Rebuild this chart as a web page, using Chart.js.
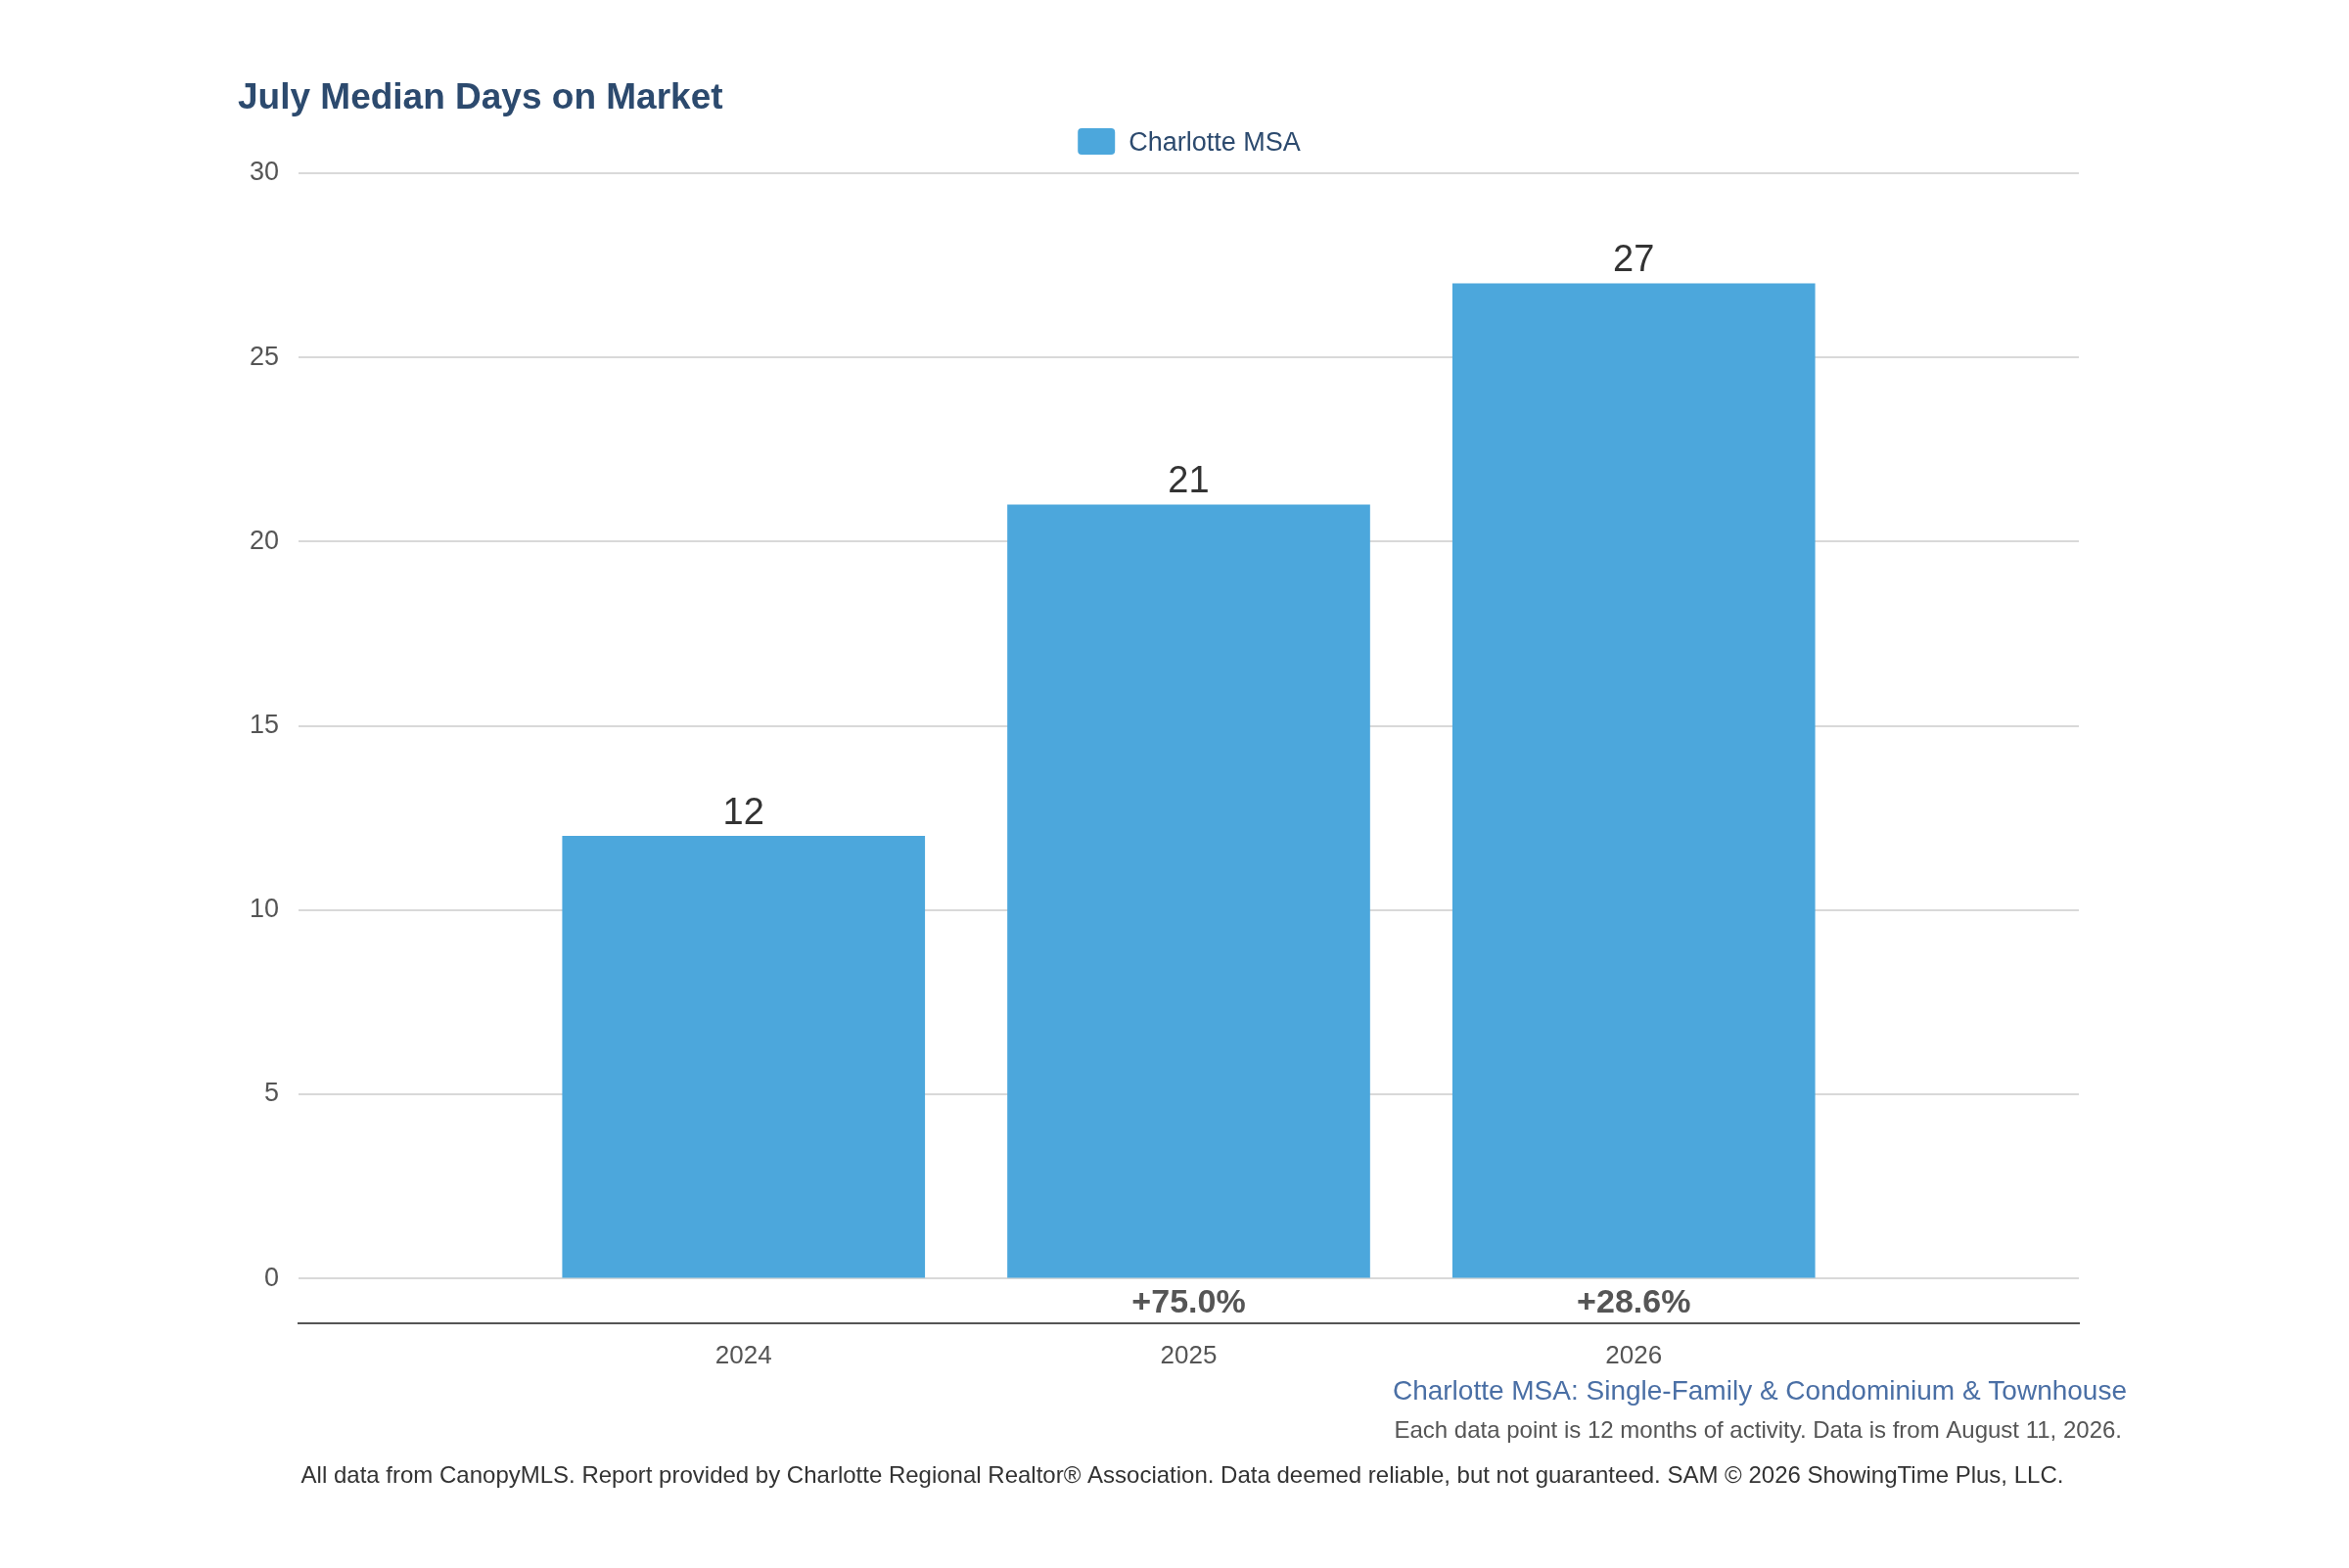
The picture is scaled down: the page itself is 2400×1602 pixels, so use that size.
<!DOCTYPE html>
<html>
<head>
<meta charset="utf-8">
<script src="https://cdn.jsdelivr.net/npm/chart.js@4"></script>
<style>
  html, body { margin: 0; padding: 0; background: #fff; }
  #wrap { width: 2400px; height: 1602px; }
</style>
</head>
<body>
<div id="wrap"><canvas id="chart" width="2400" height="1602"></canvas></div>
<script>
// data
const years = ['', '2024', '2025', '2026', ''];
const daysOnMarket = [null, 12, 21, 27, null];
const changeLabels = [null, null, '+75.0%', '+28.6%', null];
const yTicks = [0, 5, 10, 15, 20, 25, 30];

const FONT = '"Liberation Sans", Arial, sans-serif';

const decorations = {
    id: 'decorations',
    afterDraw(chart) {
        const ctx = chart.ctx;
        const x = chart.scales.x, y = chart.scales.y;
        ctx.save();
        // title
        ctx.fillStyle = '#2c4a6e';
        ctx.font = 'bold 37px ' + FONT;
        ctx.textAlign = 'left';
        ctx.textBaseline = 'middle';
        ctx.fillText('July Median Days on Market', 243, 101);
        // legend
        ctx.font = '27px ' + FONT;
        const legendText = 'Charlotte MSA';
        const tw = ctx.measureText(legendText).width;
        const lx = 1215 - (tw + 52) / 2;
        ctx.fillStyle = '#4ca7dc';
        ctx.beginPath();
        ctx.roundRect(lx, 131, 38, 27, 4);
        ctx.fill();
        ctx.fillStyle = '#2c4a6e';
        ctx.fillText(legendText, lx + 52, 147);
        // value labels and changes
        daysOnMarket.forEach((v, i) => {
            if (v === null) return;
            const cx = x.getPixelForValue(i);
            ctx.fillStyle = '#333';
            ctx.font = '38px ' + FONT;
            ctx.textAlign = 'center';
            ctx.textBaseline = 'bottom';
            ctx.fillText(String(v), cx, y.getPixelForValue(v) - 4);
            if (changeLabels[i]) {
                ctx.fillStyle = '#555';
                ctx.font = 'bold 34px ' + FONT;
                ctx.textBaseline = 'middle';
                ctx.fillText(changeLabels[i], cx, 1332);
            }
        });
        // footer
        ctx.textAlign = 'right';
        ctx.textBaseline = 'middle';
        ctx.fillStyle = '#4a6fa5';
        ctx.font = '28px ' + FONT;
        ctx.fillText('Charlotte MSA: Single-Family & Condominium & Townhouse', 2173, 1422);
        ctx.fillStyle = '#555';
        ctx.font = '24px ' + FONT;
        ctx.fillText('Each data point is 12 months of activity. Data is from August 11, 2026.', 2168, 1462);
        ctx.fillStyle = '#333';
        ctx.textAlign = 'center';
        ctx.font = '24px ' + FONT;
        ctx.fillText('All data from CanopyMLS. Report provided by Charlotte Regional Realtor\u00ae Association. Data deemed reliable, but not guaranteed. SAM \u00a9 2026 ShowingTime Plus, LLC.', 1208, 1508);
        ctx.restore();
    }
};

new Chart(document.getElementById('chart').getContext('2d'), {
    type: 'bar',
    data: {
        labels: years,
        datasets: [{
            label: 'Charlotte MSA',
            data: daysOnMarket,
            backgroundColor: '#4ca7dc',
            barThickness: 370
        }]
    },
    options: {
        responsive: false,
        animation: false,
        layout: { padding: { top: 177, right: 276, left: 0, bottom: 0 } },
        plugins: { legend: { display: false }, tooltip: { enabled: false } },
        scales: {
            x: {
                offset: false,
                grid: { display: false, drawTicks: false },
                border: { color: '#555', width: 2 },
                ticks: { color: '#555', font: { family: FONT, size: 26 }, padding: 18, maxRotation: 0, autoSkip: false },
                afterFit: s => { s.height = 250; }
            },
            y: {
                min: -1.22,
                max: 30,
                afterBuildTicks: s => { s.ticks = yTicks.map(v => ({ value: v })); },
                grid: { color: '#d9d9d9', lineWidth: 2, drawTicks: false },
                border: { display: false },
                ticks: { color: '#555', font: { family: FONT, size: 27 }, padding: 20 },
                afterFit: s => { s.width = 305; }
            }
        }
    },
    plugins: [decorations]
});
</script>
</body>
</html>
